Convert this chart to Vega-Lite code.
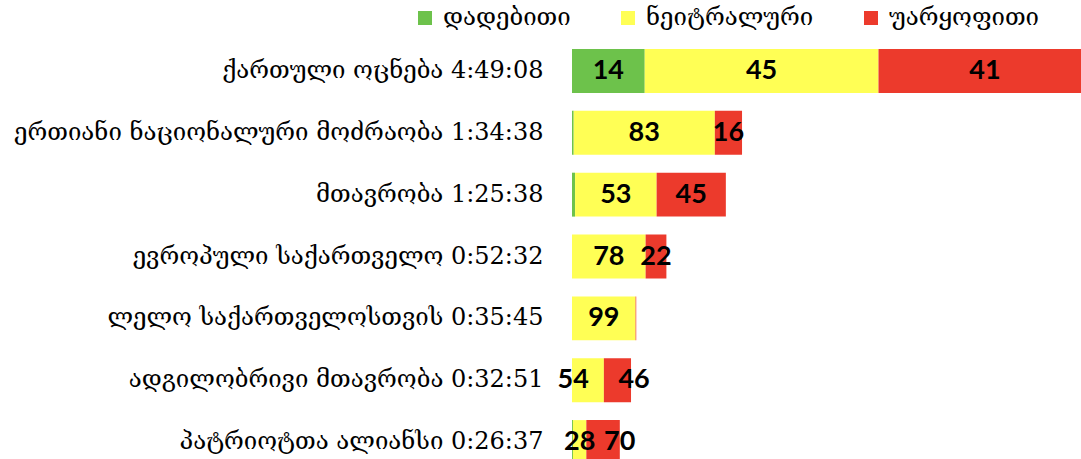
{
  "$schema": "https://vega.github.io/schema/vega-lite/v6.json",
  "autosize": "none",
  "padding": {"left": 572, "top": 40, "right": 0, "bottom": 0},
  "width": 509,
  "height": 433,
  "background": "white",
  "config": {"view": {"stroke": null}, "font": "DejaVu Serif"},
  "data": {
    "values": [
      {"party": "ქართული ოცნება 4:49:08", "rank": 1, "sentiment": "დადებითი", "so": 1, "pct": 14, "minutes": 40.48},
      {"party": "ქართული ოცნება 4:49:08", "rank": 1, "sentiment": "ნეიტრალური", "so": 2, "pct": 45, "minutes": 130.11},
      {"party": "ქართული ოცნება 4:49:08", "rank": 1, "sentiment": "უარყოფითი", "so": 3, "pct": 41, "minutes": 118.54},
      {"party": "ერთიანი ნაციონალური მოძრაობა 1:34:38", "rank": 2, "sentiment": "დადებითი", "so": 1, "pct": 1, "minutes": 0.95},
      {"party": "ერთიანი ნაციონალური მოძრაობა 1:34:38", "rank": 2, "sentiment": "ნეიტრალური", "so": 2, "pct": 83, "minutes": 78.55},
      {"party": "ერთიანი ნაციონალური მოძრაობა 1:34:38", "rank": 2, "sentiment": "უარყოფითი", "so": 3, "pct": 16, "minutes": 15.14},
      {"party": "მთავრობა 1:25:38", "rank": 3, "sentiment": "დადებითი", "so": 1, "pct": 2, "minutes": 1.71},
      {"party": "მთავრობა 1:25:38", "rank": 3, "sentiment": "ნეიტრალური", "so": 2, "pct": 53, "minutes": 45.39},
      {"party": "მთავრობა 1:25:38", "rank": 3, "sentiment": "უარყოფითი", "so": 3, "pct": 45, "minutes": 38.53},
      {"party": "ევროპული საქართველო 0:52:32", "rank": 4, "sentiment": "ნეიტრალური", "so": 2, "pct": 78, "minutes": 40.98},
      {"party": "ევროპული საქართველო 0:52:32", "rank": 4, "sentiment": "უარყოფითი", "so": 3, "pct": 22, "minutes": 11.56},
      {"party": "ლელო საქართველოსთვის 0:35:45", "rank": 5, "sentiment": "ნეიტრალური", "so": 2, "pct": 99, "minutes": 35.39},
      {"party": "ლელო საქართველოსთვის 0:35:45", "rank": 5, "sentiment": "უარყოფითი", "so": 3, "pct": 1, "minutes": 0.36},
      {"party": "ადგილობრივი მთავრობა 0:32:51", "rank": 6, "sentiment": "ნეიტრალური", "so": 2, "pct": 54, "minutes": 17.74},
      {"party": "ადგილობრივი მთავრობა 0:32:51", "rank": 6, "sentiment": "უარყოფითი", "so": 3, "pct": 46, "minutes": 15.11},
      {"party": "პატრიოტთა ალიანსი 0:26:37", "rank": 7, "sentiment": "დადებითი", "so": 1, "pct": 2, "minutes": 0.53},
      {"party": "პატრიოტთა ალიანსი 0:26:37", "rank": 7, "sentiment": "ნეიტრალური", "so": 2, "pct": 28, "minutes": 7.45},
      {"party": "პატრიოტთა ალიანსი 0:26:37", "rank": 7, "sentiment": "უარყოფითი", "so": 3, "pct": 70, "minutes": 18.63}
    ]
  },
  "transform": [
    {"stack": "minutes", "groupby": ["party"], "sort": [{"field": "so", "order": "ascending"}], "as": ["x0", "x1"]}
  ],
  "encoding": {
    "y": {
      "field": "party", "type": "nominal",
      "sort": {"field": "rank", "op": "min", "order": "ascending"},
      "scale": {"paddingInner": 0.29, "paddingOuter": 0.145},
      "axis": {"title": null, "ticks": false, "domain": false, "labelPadding": 29, "labelFontSize": 24, "labelColor": "#000000", "labelFont": "DejaVu Serif", "labelLimit": 600}
    }
  },
  "layer": [
    {
      "mark": {"type": "bar", "clip": true},
      "encoding": {
        "x": {"field": "x0", "type": "quantitative", "scale": {"domain": [0, 283.3], "nice": false}, "axis": null},
        "x2": {"field": "x1"},
        "color": {
          "field": "sentiment", "type": "nominal",
          "scale": {"domain": ["დადებითი", "ნეიტრალური", "უარყოფითი"], "range": ["#6DC24B", "#FFFF55", "#EC3A2C"]},
          "legend": {
            "title": null, "orient": "none", "legendX": -159, "legendY": -34, "direction": "horizontal",
            "symbolType": "square", "symbolSize": 196, "symbolStrokeWidth": 0, "symbolOpacity": 1,
            "labelFontSize": 24, "labelFont": "DejaVu Serif", "labelColor": "#000000", "labelOffset": 6, "columnPadding": 45, "labelLimit": 400
          }
        }
      }
    },
    {
      "transform": [
        {"filter": "datum.pct >= 5 && !(datum.rank == 6) && !(datum.rank == 7 && datum.so == 3)"},
        {"fold": ["x0", "x1"], "as": ["edge", "pos"]}
      ],
      "mark": {"type": "text", "font": "Lato", "fontWeight": "bold", "fontSize": 27, "color": "#000000", "baseline": "middle", "align": "center"},
      "encoding": {
        "x": {"aggregate": "mean", "field": "pos", "type": "quantitative"},
        "text": {"field": "pct", "type": "quantitative"},
        "detail": {"field": "sentiment", "type": "nominal"}
      }
    },
    {
      "transform": [
        {"filter": "datum.rank >= 6 && datum.so == 3"},
        {"fold": ["x0", "x1"], "as": ["edge", "pos"]}
      ],
      "mark": {"type": "text", "font": "Lato", "fontWeight": "bold", "fontSize": 27, "color": "#000000", "baseline": "middle", "align": "left", "dx": 1},
      "encoding": {
        "x": {"aggregate": "mean", "field": "pos", "type": "quantitative"},
        "text": {"field": "pct", "type": "quantitative"},
        "detail": {"field": "sentiment", "type": "nominal"}
      }
    },
    {
      "transform": [
        {"filter": "datum.rank == 6 && datum.so == 2"},
        {"fold": ["x0", "x1"], "as": ["edge", "pos"]}
      ],
      "mark": {"type": "text", "font": "Lato", "fontWeight": "bold", "fontSize": 27, "color": "#000000", "baseline": "middle", "align": "right", "dx": 1},
      "encoding": {
        "x": {"aggregate": "mean", "field": "pos", "type": "quantitative"},
        "text": {"field": "pct", "type": "quantitative"},
        "detail": {"field": "sentiment", "type": "nominal"}
      }
    }
  ]
}
